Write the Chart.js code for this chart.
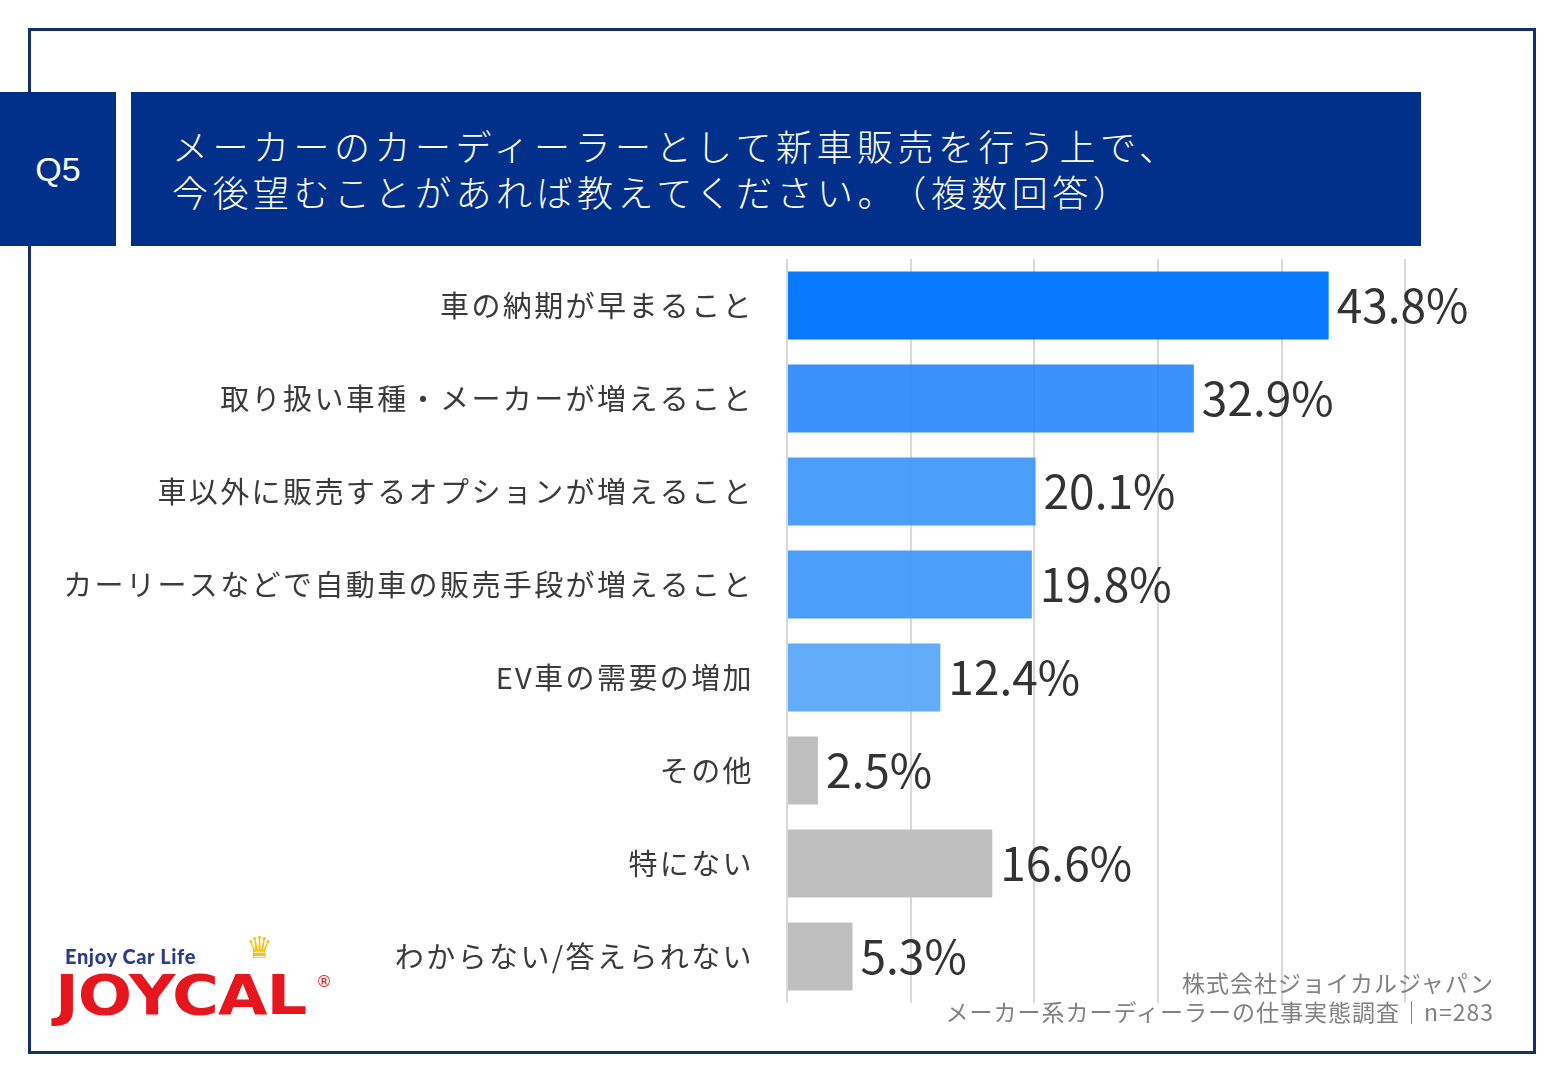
<!DOCTYPE html>
<html lang="ja">
<head>
<meta charset="utf-8">
<title>Q5</title>
<script src="https://cdn.jsdelivr.net/npm/chart.js@4.4.1/dist/chart.umd.min.js"></script>
<style>
  html, body { margin: 0; padding: 0; background: #fff; }
  body { width: 1560px; height: 1080px; position: relative; overflow: hidden;
         font-family: "Noto Sans CJK JP", "Noto Sans", sans-serif; }
  .frame { position: absolute; left: 28px; top: 28px; width: 1508px; height: 1026px;
           border: 3px solid #14306c; box-sizing: border-box; }
  .qbox { position: absolute; left: 0; top: 92px; width: 116px; height: 154px; background: #00308a;
          color: #fff; font: 34px "Liberation Sans", Arial, sans-serif; display: flex;
          align-items: center; justify-content: center; }
  .titlebox { position: absolute; left: 131px; top: 92px; width: 1290px; height: 154px; background: #00308a; }
  .titlebox div { position: absolute; left: 41px; color: #fff; font-size: 36px; font-weight: 300;
                  letter-spacing: 4.5px; white-space: nowrap; line-height: 46px; }
  .titlebox .gap { margin-left: 10px; }
  #chartWrap { position: absolute; left: 0; top: 250px; width: 1560px; height: 770px; }
  .foot { position: absolute; right: 66px; color: #808080; font-size: 23px; letter-spacing: 1px;
          white-space: nowrap; line-height: 30px; }
  .logo { position: absolute; left: 52px; top: 930px; width: 290px; height: 100px; }
  .logo .tag { position: absolute; left: 13px; top: 14px; color: #2a3b8f; font: 900 20px Lato, "DejaVu Sans", sans-serif;
               letter-spacing: 0.6px; }
  .logo .big { position: absolute; left: 3px; top: 40px; color: #e5161d; font: 900 64px "DejaVu Sans", Lato, sans-serif;
               letter-spacing: -1px; line-height: 60px; transform: scaleY(0.85); transform-origin: left top; }
  .logo .crown { position: absolute; left: 194px; top: 0px; color: #f1c40f; font-size: 30px; line-height: 30px; }
  .logo .reg { position: absolute; left: 264px; top: 42px; color: #e5161d; font: 16px "DejaVu Sans", sans-serif; }
</style>
</head>
<body>
<div class="frame"></div>
<div class="qbox">Q5</div>
<div class="titlebox">
  <div style="top:30px">メーカーのカーディーラーとして新車販売を行う上で、</div>
  <div style="top:76px">今後望むことがあれば教えてください。<span class="gap">（複数回答）</span></div>
</div>
<div id="chartWrap"><canvas id="chart" width="1560" height="770"></canvas></div>
<div class="foot" style="top:967px">株式会社ジョイカルジャパン</div>
<div class="foot" style="top:996px">メーカー系カーディーラーの仕事実態調査｜n=283</div>
<div class="logo">
  <div class="crown">♛</div>
  <div class="tag">Enjoy Car Life</div>
  <div class="big">JOYCAL</div>
  <div class="reg">®</div>
</div>
<script>
  // answers, top to bottom
  const categories = [
    '車の納期が早まること',
    '取り扱い車種・メーカーが増えること',
    '車以外に販売するオプションが増えること',
    'カーリースなどで自動車の販売手段が増えること',
    'EV車の需要の増加',
    'その他',
    '特にない',
    'わからない/答えられない',
  ];
  const values = [43.8, 32.9, 20.1, 19.8, 12.4, 2.5, 16.6, 5.3];
  const barColors = [
    'rgba(0,118,255,0.97)',
    'rgba(36,134,250,0.9)',
    'rgba(55,149,249,0.9)',
    'rgba(55,149,249,0.9)',
    'rgba(82,163,250,0.9)',
    '#bfbfbf',
    '#bfbfbf',
    '#bfbfbf',
  ];
  const axisMax = 60;

  const FONT = '"Noto Sans CJK JP", "Noto Sans", sans-serif';

  // tick labels in the reference are letter-spaced
  const spacingPlugin = {
    id: 'spacing',
    beforeDraw(chart) {
      chart.ctx.letterSpacing = '2.4px';
    },
    beforeDatasetsDraw(chart) {
      chart.ctx.letterSpacing = '0px';
    },
  };

  const valueLabels = {
    id: 'valueLabels',
    afterDatasetsDraw(chart) {
      const ctx = chart.ctx;
      const meta = chart.getDatasetMeta(0);
      ctx.save();
      ctx.letterSpacing = '0px';
      ctx.font = `46px ${FONT}`;
      ctx.fillStyle = '#333333';
      ctx.textAlign = 'left';
      ctx.textBaseline = 'middle';
      meta.data.forEach((bar, i) => {
        ctx.fillText(`${values[i].toFixed(1)}%`, bar.x + 8, bar.y);
      });
      ctx.restore();
    },
  };

  new Chart(document.getElementById('chart'), {
    type: 'bar',
    data: {
      labels: categories,
      datasets: [
        {
          data: values,
          backgroundColor: barColors,
          borderWidth: 0,
          barPercentage: 0.73,
          categoryPercentage: 1,
        },
      ],
    },
    options: {
      indexAxis: 'y',
      responsive: false,
      animation: false,
      devicePixelRatio: 1,
      layout: { autoPadding: false, padding: { left: 0, top: 9, bottom: 17, right: 31 } },
      plugins: { legend: { display: false }, tooltip: { enabled: false } },
      scales: {
        x: {
          min: 0,
          max: axisMax,
          ticks: { display: false, stepSize: 10 },
          border: { display: false },
          grid: {
            drawTicks: false,
            lineWidth: 2,
            color: (c) => (c.tick && c.tick.value === axisMax ? 'rgba(0,0,0,0)' : '#d9d9d9'),
          },
          afterFit(scale) {
            scale.height = 0;
          },
        },
        y: {
          border: { display: false },
          grid: { display: false, drawTicks: false },
          ticks: {
            padding: 33,
            color: '#3a3a3a',
            font: { family: FONT, size: 29 },
          },
          afterFit(scale) {
            scale.width = 787;
            // tick padding should only push labels sideways
            scale.paddingTop = 0;
            scale.paddingBottom = 0;
          },
        },
      },
    },
    plugins: [spacingPlugin, valueLabels],
  });
</script>
</body>
</html>
